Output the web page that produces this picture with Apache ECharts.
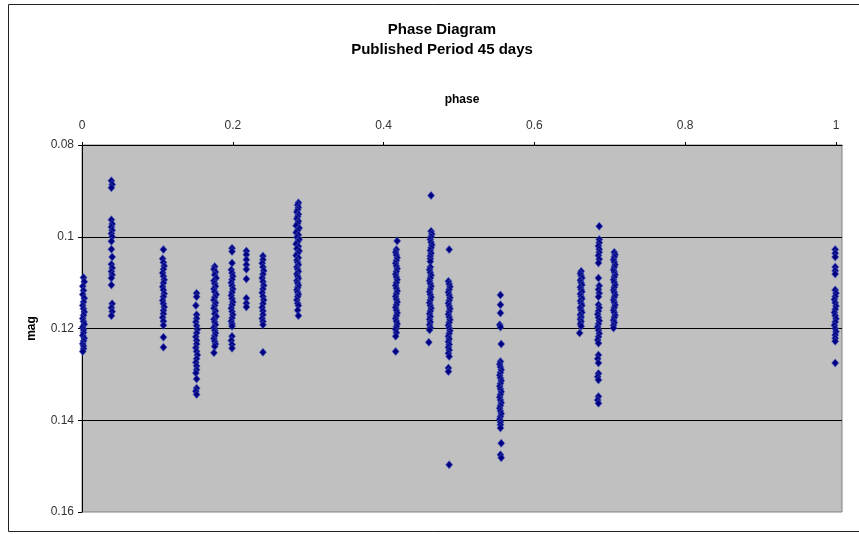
<!DOCTYPE html>
<html>
<head>
<meta charset="utf-8">
<script src="https://cdn.jsdelivr.net/npm/echarts@6/dist/echarts.min.js"></script>
<style>
html,body{margin:0;padding:0;background:#fff;}
#chart{width:859px;height:534px;}
</style>
</head>
<body>
<div id="chart"></div>
<script>
// ---- data: [phase, mag] pairs, grouped by column ----
const col01 = [[0.002,0.1089],[0.003,0.1098],[0.001,0.1108],[0.002,0.1117],[0.001,0.1126],[0.003,0.1134],[0.002,0.1142],[0.001,0.1150],[0.002,0.1157],[0.003,0.1164],[0.002,0.1171],[0.001,0.1178],[0.002,0.1185],[0.003,0.1191],[0.001,0.1197],[0.002,0.1203],[0.002,0.1209],[0.001,0.1215],[0.003,0.1221],[0.002,0.1227],[0.001,0.1233],[0.002,0.1238],[0.002,0.1244],[0.001,0.1250]];
const col02 = [[0.039,0.0878],[0.040,0.0886],[0.039,0.0893],[0.039,0.0963],[0.040,0.0972],[0.039,0.0979],[0.040,0.0986],[0.039,0.0993],[0.040,0.1000],[0.039,0.1010],[0.039,0.1027],[0.040,0.1044],[0.039,0.1060],[0.040,0.1068],[0.039,0.1076],[0.040,0.1083],[0.039,0.1090],[0.039,0.1105],[0.040,0.1146],[0.039,0.1155],[0.040,0.1163],[0.039,0.1172]];
const col03 = [[0.108,0.1028],[0.107,0.1048],[0.108,0.1056],[0.109,0.1064],[0.108,0.1071],[0.107,0.1079],[0.108,0.1086],[0.109,0.1094],[0.108,0.1101],[0.107,0.1109],[0.108,0.1116],[0.109,0.1124],[0.108,0.1131],[0.107,0.1139],[0.108,0.1146],[0.109,0.1153],[0.108,0.1161],[0.108,0.1168],[0.107,0.1176],[0.108,0.1184],[0.108,0.1193],[0.108,0.1219],[0.108,0.1241]];
const col04 = [[0.152,0.1123],[0.152,0.1131],[0.151,0.1150],[0.152,0.1170],[0.152,0.1178],[0.151,0.1186],[0.152,0.1194],[0.153,0.1202],[0.152,0.1210],[0.151,0.1218],[0.152,0.1226],[0.152,0.1234],[0.151,0.1242],[0.152,0.1250],[0.153,0.1258],[0.152,0.1266],[0.151,0.1274],[0.152,0.1282],[0.152,0.1290],[0.151,0.1297],[0.152,0.1310],[0.152,0.1330],[0.151,0.1337],[0.152,0.1344]];
const col05 = [[0.176,0.1065],[0.175,0.1071],[0.177,0.1077],[0.176,0.1083],[0.178,0.1090],[0.175,0.1096],[0.176,0.1102],[0.177,0.1108],[0.175,0.1114],[0.176,0.1120],[0.178,0.1126],[0.176,0.1132],[0.175,0.1138],[0.177,0.1144],[0.176,0.1150],[0.175,0.1156],[0.177,0.1162],[0.176,0.1168],[0.178,0.1174],[0.175,0.1180],[0.176,0.1186],[0.177,0.1192],[0.175,0.1198],[0.176,0.1204],[0.177,0.1210],[0.176,0.1216],[0.175,0.1222],[0.176,0.1228],[0.177,0.1234],[0.176,0.1239],[0.175,0.1253]];
const col06 = [[0.199,0.1025],[0.199,0.1032],[0.199,0.1057],[0.198,0.1072],[0.199,0.1079],[0.200,0.1086],[0.199,0.1093],[0.198,0.1100],[0.199,0.1107],[0.200,0.1114],[0.199,0.1121],[0.198,0.1128],[0.199,0.1135],[0.200,0.1142],[0.199,0.1149],[0.198,0.1156],[0.199,0.1163],[0.200,0.1170],[0.199,0.1177],[0.198,0.1184],[0.199,0.1190],[0.199,0.1195],[0.199,0.1217],[0.198,0.1226],[0.199,0.1235],[0.199,0.1243]];
const col07 = [[0.218,0.1031],[0.218,0.1039],[0.218,0.1050],[0.218,0.1061],[0.218,0.1071],[0.218,0.1092],[0.218,0.1134],[0.218,0.1145],[0.218,0.1153]];
const col08 = [[0.240,0.1042],[0.240,0.1050],[0.239,0.1058],[0.240,0.1066],[0.241,0.1074],[0.240,0.1082],[0.239,0.1090],[0.240,0.1098],[0.241,0.1106],[0.240,0.1114],[0.239,0.1122],[0.240,0.1130],[0.241,0.1138],[0.240,0.1146],[0.239,0.1154],[0.240,0.1162],[0.240,0.1170],[0.239,0.1178],[0.240,0.1185],[0.240,0.1192],[0.240,0.1252]];
const col09 = [[0.287,0.0926],[0.286,0.0931],[0.287,0.0936],[0.286,0.0941],[0.285,0.0946],[0.287,0.0951],[0.286,0.0956],[0.285,0.0961],[0.287,0.0966],[0.286,0.0971],[0.284,0.0976],[0.288,0.0981],[0.286,0.0986],[0.284,0.0991],[0.287,0.0996],[0.285,0.1001],[0.288,0.1006],[0.286,0.1011],[0.284,0.1016],[0.287,0.1021],[0.285,0.1026],[0.288,0.1031],[0.286,0.1036],[0.284,0.1041],[0.287,0.1046],[0.285,0.1051],[0.286,0.1056],[0.287,0.1061],[0.285,0.1066],[0.286,0.1071],[0.287,0.1076],[0.285,0.1081],[0.286,0.1086],[0.287,0.1091],[0.285,0.1096],[0.286,0.1101],[0.287,0.1106],[0.286,0.1111],[0.285,0.1116],[0.286,0.1121],[0.287,0.1126],[0.286,0.1131],[0.285,0.1138],[0.286,0.1145],[0.287,0.1150],[0.286,0.1160],[0.287,0.1172]];
const col10 = [[0.418,0.1009],[0.417,0.1028],[0.416,0.1034],[0.417,0.1040],[0.418,0.1046],[0.417,0.1052],[0.416,0.1058],[0.417,0.1064],[0.418,0.1070],[0.417,0.1076],[0.416,0.1082],[0.417,0.1088],[0.418,0.1094],[0.417,0.1100],[0.416,0.1106],[0.417,0.1112],[0.418,0.1118],[0.417,0.1124],[0.416,0.1130],[0.417,0.1136],[0.418,0.1142],[0.417,0.1148],[0.416,0.1154],[0.417,0.1160],[0.418,0.1166],[0.417,0.1172],[0.416,0.1178],[0.417,0.1184],[0.418,0.1190],[0.417,0.1196],[0.416,0.1202],[0.417,0.1209],[0.416,0.1217],[0.416,0.1250]];
const col11 = [[0.463,0.0910],[0.463,0.0988],[0.464,0.0994],[0.463,0.1000],[0.462,0.1006],[0.463,0.1012],[0.464,0.1018],[0.463,0.1024],[0.462,0.1030],[0.463,0.1036],[0.462,0.1042],[0.462,0.1048],[0.462,0.1054],[0.462,0.1066],[0.461,0.1072],[0.462,0.1078],[0.463,0.1084],[0.462,0.1090],[0.461,0.1096],[0.462,0.1102],[0.463,0.1108],[0.462,0.1114],[0.461,0.1120],[0.462,0.1126],[0.463,0.1132],[0.462,0.1138],[0.461,0.1144],[0.462,0.1150],[0.463,0.1156],[0.462,0.1162],[0.461,0.1168],[0.462,0.1174],[0.461,0.1180],[0.462,0.1186],[0.461,0.1192],[0.462,0.1198],[0.461,0.1203],[0.460,0.1230]];
const col12 = [[0.487,0.1028],[0.486,0.1097],[0.487,0.1103],[0.488,0.1109],[0.487,0.1115],[0.486,0.1121],[0.487,0.1127],[0.488,0.1133],[0.487,0.1139],[0.486,0.1145],[0.487,0.1151],[0.488,0.1157],[0.487,0.1163],[0.486,0.1169],[0.487,0.1175],[0.488,0.1181],[0.487,0.1187],[0.486,0.1193],[0.487,0.1199],[0.488,0.1205],[0.487,0.1211],[0.486,0.1217],[0.487,0.1223],[0.486,0.1229],[0.487,0.1235],[0.486,0.1241],[0.487,0.1247],[0.486,0.1254],[0.487,0.1261],[0.486,0.1286],[0.486,0.1294],[0.487,0.1497]];
const col13 = [[0.555,0.1127],[0.555,0.1148],[0.555,0.1166],[0.554,0.1192],[0.555,0.1197],[0.556,0.1234],[0.555,0.1272],[0.554,0.1278],[0.555,0.1284],[0.556,0.1290],[0.555,0.1296],[0.554,0.1302],[0.555,0.1308],[0.556,0.1314],[0.555,0.1320],[0.554,0.1326],[0.555,0.1332],[0.556,0.1338],[0.555,0.1344],[0.554,0.1350],[0.555,0.1356],[0.556,0.1362],[0.555,0.1368],[0.554,0.1374],[0.555,0.1380],[0.556,0.1386],[0.555,0.1392],[0.554,0.1398],[0.555,0.1404],[0.555,0.1410],[0.555,0.1417],[0.556,0.1450],[0.555,0.1475],[0.556,0.1482]];
const col14 = [[0.662,0.1075],[0.661,0.1080],[0.662,0.1085],[0.663,0.1090],[0.661,0.1095],[0.662,0.1100],[0.663,0.1105],[0.661,0.1110],[0.662,0.1115],[0.663,0.1120],[0.661,0.1125],[0.662,0.1130],[0.663,0.1135],[0.661,0.1140],[0.662,0.1145],[0.663,0.1150],[0.661,0.1155],[0.662,0.1160],[0.663,0.1165],[0.661,0.1170],[0.662,0.1175],[0.661,0.1180],[0.662,0.1185],[0.661,0.1190],[0.662,0.1195],[0.660,0.1210]];
const col15 = [[0.686,0.0977],[0.686,0.1006],[0.686,0.1013],[0.685,0.1020],[0.686,0.1027],[0.686,0.1034],[0.685,0.1041],[0.686,0.1049],[0.685,0.1057],[0.685,0.1090],[0.686,0.1107],[0.685,0.1115],[0.686,0.1123],[0.685,0.1131],[0.685,0.1148],[0.686,0.1155],[0.685,0.1162],[0.684,0.1169],[0.685,0.1176],[0.686,0.1183],[0.685,0.1190],[0.684,0.1197],[0.685,0.1204],[0.686,0.1211],[0.685,0.1218],[0.684,0.1225],[0.685,0.1232],[0.685,0.1258],[0.684,0.1266],[0.685,0.1275],[0.685,0.1298],[0.684,0.1305],[0.685,0.1312],[0.685,0.1348],[0.684,0.1356],[0.685,0.1363]];
const col16 = [[0.706,0.1034],[0.707,0.1039],[0.706,0.1044],[0.705,0.1050],[0.706,0.1055],[0.707,0.1061],[0.706,0.1066],[0.705,0.1072],[0.706,0.1077],[0.707,0.1083],[0.706,0.1088],[0.705,0.1094],[0.706,0.1099],[0.707,0.1105],[0.706,0.1110],[0.705,0.1116],[0.706,0.1121],[0.707,0.1127],[0.706,0.1132],[0.705,0.1138],[0.706,0.1143],[0.707,0.1149],[0.706,0.1154],[0.705,0.1160],[0.706,0.1165],[0.707,0.1171],[0.706,0.1176],[0.705,0.1182],[0.706,0.1187],[0.705,0.1193],[0.705,0.1199]];
const col17 = [[0.999,0.1028],[0.999,0.1036],[0.999,0.1044],[0.999,0.1066],[0.999,0.1074],[0.999,0.1081],[0.999,0.1116],[1.000,0.1123],[0.999,0.1130],[0.998,0.1137],[0.999,0.1144],[1.000,0.1151],[0.999,0.1158],[0.998,0.1165],[0.999,0.1172],[1.000,0.1179],[0.999,0.1186],[0.998,0.1193],[0.999,0.1200],[1.000,0.1207],[0.999,0.1214],[0.999,0.1221],[0.999,0.1228],[0.999,0.1275]];

const titleLines = ['Phase Diagram', 'Published Period 45 days'];
const xName = 'phase';
const yName = 'mag';

const allPoints = [].concat(col01,col02,col03,col04,col05,col06,col07,col08,col09,col10,col11,col12,col13,col14,col15,col16,col17);

const chart = echarts.init(document.getElementById('chart'), null, {renderer:'canvas'});
const FONT = "'Liberation Sans', Arial, sans-serif";
chart.setOption({
  animation: false,
  backgroundColor: '#ffffff',
  title: {
    text: titleLines.join('\n'),
    left: 437, top: 15, textAlign: 'center',
    textStyle: {fontFamily: FONT, fontSize: 15, fontWeight: 'bold', color: '#000', lineHeight: 20}
  },
  graphic: [{
    type: 'polyline', silent: true,
    shape: {points: [[859,4.5],[8.5,4.5],[8.5,531.5],[859,531.5]]},
    style: {stroke: '#222', lineWidth: 1, fill: null}
  }],
  grid: {
    left: 82, right: 17, top: 145, bottom: 22,
    show: true, backgroundColor: '#c0c0c0', borderColor: '#808080', borderWidth: 1
  },
  xAxis: {
    type: 'value', position: 'top', min: 0, max: 1.008, interval: 0.2,
    name: xName, nameLocation: 'middle', nameGap: 39,
    nameTextStyle: {fontFamily: FONT, fontSize: 12, fontWeight: 'bold', color: '#000'},
    axisLine: {show: true, onZero: false, lineStyle: {color: '#000', width: 1}},
    axisTick: {show: true, length: 3, lineStyle: {color: '#000'}},
    axisLabel: {fontFamily: FONT, fontSize: 12, color: '#333', margin: 13, showMaxLabel: false},
    splitLine: {show: false}
  },
  yAxis: {
    type: 'value', inverse: true, min: 0.08, max: 0.16, interval: 0.02,
    name: yName, nameLocation: 'middle', nameGap: 44, nameRotate: 90,
    nameTextStyle: {fontFamily: FONT, fontSize: 12, fontWeight: 'bold', color: '#000'},
    axisLine: {show: true, onZero: false, lineStyle: {color: '#000', width: 1}},
    axisTick: {show: true, length: 4, lineStyle: {color: '#000'}},
    axisLabel: {fontFamily: FONT, fontSize: 12, color: '#333', margin: 8},
    splitLine: {show: true, showMinLine: false, showMaxLine: false, lineStyle: {color: '#000', width: 1}}
  },
  series: [{
    type: 'scatter',
    data: allPoints,
    symbol: 'diamond',
    symbolSize: [7, 8],
    itemStyle: {color: '#000080', opacity: 1, borderColor: 'rgba(80,100,200,0.45)', borderWidth: 1}
  }]
});
</script>
</body>
</html>
